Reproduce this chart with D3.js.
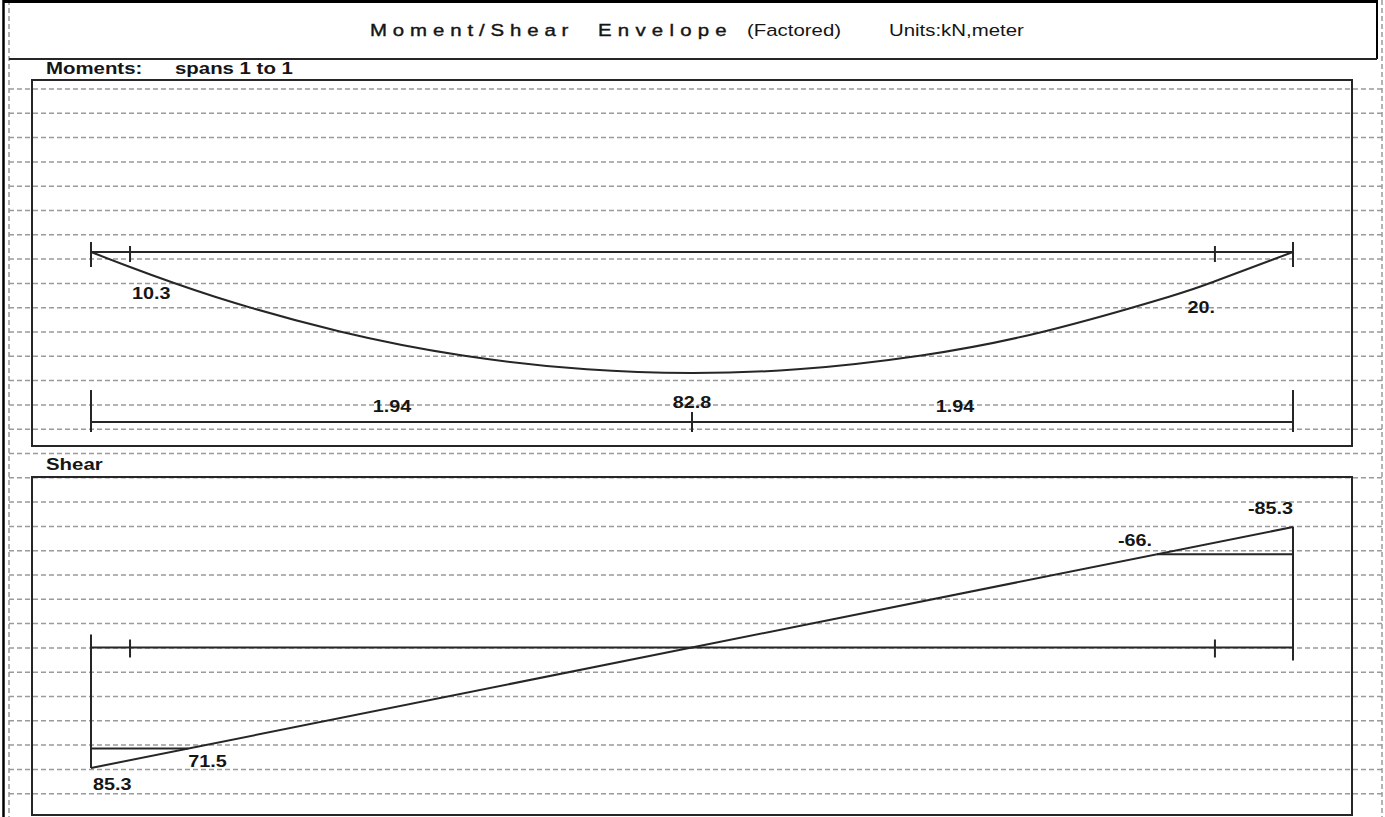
<!DOCTYPE html>
<html>
<head>
<meta charset="utf-8">
<script src="https://cdn.jsdelivr.net/npm/d3@7"></script>
<style>
  body { margin: 0; background: #fff; }
  text { font-family: "Liberation Sans", Arial, sans-serif; fill: #151515; }
</style>
</head>
<body>
<div id="chart"></div>
<script>
// span data (meters, kN, kN*m)
const spanLength = 3.88;
const critX = [0.126, 3.628];          // critical sections
const critMoment = ["10.3", "20."];

// moment envelope
const momentX = [0, 0.126, 0.4, 0.8, 1.2, 1.6, 1.94, 2.28, 2.68, 3.08, 3.48, 3.628, 3.88];
const momentVal = [0, 10.3, 30.6, 54.2, 70.8, 80.3, 82.8, 80.3, 70.8, 54.2, 30.6, 20.0, 0];
const maxMoment = 82.8;
const maxMomentX = 1.94;
const dimLabels = ["1.94", "1.94"];
const dimLabelX = [0.972, 2.789];

// shear envelope
const shearX = [0, 3.88];
const shearVal = [85.3, -85.3];
const shearMarks = [71.5, -66];
const shearMarkLabels = ["71.5", "-66."];
const shearEndLabels = ["85.3", "-85.3"];

const W = 1385, H = 817;
const ink = "#262626";

const svg = d3.select("#chart").append("svg")
  .attr("width", W)
  .attr("height", H);

// stretched text, like the original printout
function label(x, y, txt, o) {
  o = o || {};
  return svg.append("text")
    .attr("transform", `translate(${x},${y}) scale(1.2,1)`)
    .attr("text-anchor", o.anchor || "start")
    .style("font-size", (o.size || 16.5) + "px")
    .style("font-weight", o.bold === false ? "normal" : "bold")
    .text(txt);
}

// paper rulings
svg.append("g").selectAll("line")
  .data(d3.range(0, 30))
  .join("line")
    .attr("x1", 9).attr("x2", W)
    .attr("y1", d => 89 + d * 24.3)
    .attr("y2", d => 89 + d * 24.3)
    .attr("stroke", "#9a9a9a")
    .attr("stroke-width", 1.5)
    .attr("stroke-dasharray", "5,3");

[9, 1382].forEach(xx => {
  svg.append("line")
    .attr("x1", xx).attr("x2", xx).attr("y1", 0).attr("y2", H)
    .attr("stroke", "#9a9a9a").attr("stroke-width", 1.5)
    .attr("stroke-dasharray", "5,3");
});

// outer frame and title bar
svg.append("line").attr("x1", 3).attr("x2", 1378).attr("y1", 1.5).attr("y2", 1.5)
  .attr("stroke", "#000").attr("stroke-width", 3);
svg.append("line").attr("x1", 3.5).attr("x2", 3.5).attr("y1", 0).attr("y2", H)
  .attr("stroke", "#000").attr("stroke-width", 2.5);
svg.append("line").attr("x1", 1377).attr("x2", 1377).attr("y1", 0).attr("y2", 59)
  .attr("stroke", "#000").attr("stroke-width", 2);
svg.append("line").attr("x1", 9).attr("x2", 1377).attr("y1", 59).attr("y2", 59)
  .attr("stroke", ink).attr("stroke-width", 2);

label(370, 36, "Moment/Shear", {size: 17, bold: false}).attr("letter-spacing", "4.9px")
  .style("stroke", "#151515").style("stroke-width", 0.4);
label(598, 36, "Envelope", {size: 17, bold: false}).attr("letter-spacing", "5.2px")
  .style("stroke", "#151515").style("stroke-width", 0.4);
label(747, 36, "(Factored)", {size: 17, bold: false});
label(889, 36, "Units:kN,meter", {size: 17, bold: false});

label(46, 74, "Moments:", {size: 17});
label(175, 74, "spans 1 to 1", {size: 17});
label(46, 470, "Shear", {size: 17});

// panel boxes
[[80, 446], [477, 815]].forEach(([y0, y1]) => {
  svg.append("rect")
    .attr("x", 32).attr("y", y0)
    .attr("width", 1352 - 32).attr("height", y1 - y0)
    .attr("fill", "none").attr("stroke", ink).attr("stroke-width", 2);
});

const x = d3.scaleLinear().domain([0, spanLength]).range([91, 1293]);

// ---------- moments ----------
const beamY = 252;
const yM = d3.scaleLinear().domain([0, maxMoment]).range([beamY, 373]);

svg.append("line")
  .attr("x1", x(0)).attr("x2", x(spanLength))
  .attr("y1", beamY).attr("y2", beamY)
  .attr("stroke", ink).attr("stroke-width", 2);
[0, spanLength].forEach(v => {
  svg.append("line").attr("x1", x(v)).attr("x2", x(v))
    .attr("y1", beamY - 10).attr("y2", beamY + 15)
    .attr("stroke", ink).attr("stroke-width", 2);
});
critX.forEach(v => {
  svg.append("line").attr("x1", x(v)).attr("x2", x(v))
    .attr("y1", beamY - 6).attr("y2", beamY + 10)
    .attr("stroke", ink).attr("stroke-width", 2);
});

const momentPts = momentX.map((d, i) => [d, momentVal[i]]);
svg.append("path")
  .datum(momentPts)
  .attr("fill", "none")
  .attr("stroke", ink)
  .attr("stroke-width", 2)
  .attr("d", d3.line().x(d => x(d[0])).y(d => yM(d[1])).curve(d3.curveNatural));

critX.forEach((v, i) => {
  const m = momentVal[momentX.indexOf(v)];
  if (i === 0) label(x(v) + 2, yM(m) + 32, critMoment[i]);
  else label(x(v), yM(m) + 32, critMoment[i], {anchor: "end"});
});

// dimension line
const dimY = 422;
svg.append("line")
  .attr("x1", x(0)).attr("x2", x(spanLength))
  .attr("y1", dimY).attr("y2", dimY)
  .attr("stroke", ink).attr("stroke-width", 2);
[0, spanLength].forEach(v => {
  svg.append("line").attr("x1", x(v)).attr("x2", x(v))
    .attr("y1", 390).attr("y2", 432)
    .attr("stroke", ink).attr("stroke-width", 2);
});
svg.append("line").attr("x1", x(maxMomentX)).attr("x2", x(maxMomentX))
  .attr("y1", 412).attr("y2", 432)
  .attr("stroke", ink).attr("stroke-width", 2);
label(x(maxMomentX), 408, String(maxMoment), {anchor: "middle"});
dimLabels.forEach((t, i) => label(x(dimLabelX[i]), 412, t, {anchor: "middle"}));

// ---------- shear ----------
const sBeamY = 647.5;
const yS = d3.scaleLinear().domain([-85.3, 85.3]).range([527, 768]);
const shearAt = d3.scaleLinear().domain(shearVal).range(shearX);

svg.append("line")
  .attr("x1", x(0)).attr("x2", x(spanLength))
  .attr("y1", sBeamY).attr("y2", sBeamY)
  .attr("stroke", ink).attr("stroke-width", 2);
critX.forEach(v => {
  svg.append("line").attr("x1", x(v)).attr("x2", x(v))
    .attr("y1", sBeamY - 8).attr("y2", sBeamY + 10)
    .attr("stroke", ink).attr("stroke-width", 2);
});

// end verticals
svg.append("line").attr("x1", x(0)).attr("x2", x(0))
  .attr("y1", sBeamY - 13).attr("y2", yS(shearVal[0]))
  .attr("stroke", ink).attr("stroke-width", 2);
svg.append("line").attr("x1", x(spanLength)).attr("x2", x(spanLength))
  .attr("y1", yS(shearVal[1])).attr("y2", sBeamY + 13)
  .attr("stroke", ink).attr("stroke-width", 2);

svg.append("path")
  .datum(shearX.map((d, i) => [d, shearVal[i]]))
  .attr("fill", "none")
  .attr("stroke", ink)
  .attr("stroke-width", 2)
  .attr("d", d3.line().x(d => x(d[0])).y(d => yS(d[1])));

// critical shear marks
shearMarks.forEach((v, i) => {
  const xi = shearAt(v);
  const from = i === 0 ? 0 : spanLength;
  svg.append("line")
    .attr("x1", x(from)).attr("x2", x(xi))
    .attr("y1", yS(v)).attr("y2", yS(v))
    .attr("stroke", ink).attr("stroke-width", 2);
  if (i === 0) label(x(xi), yS(v) + 18, shearMarkLabels[i]);
  else label(x(xi) - 5, yS(v) - 8, shearMarkLabels[i], {anchor: "end"});
});

label(x(0) + 2, yS(shearVal[0]) + 22, shearEndLabels[0]);
label(x(spanLength), yS(shearVal[1]) - 13, shearEndLabels[1], {anchor: "end"});
</script>
</body>
</html>
